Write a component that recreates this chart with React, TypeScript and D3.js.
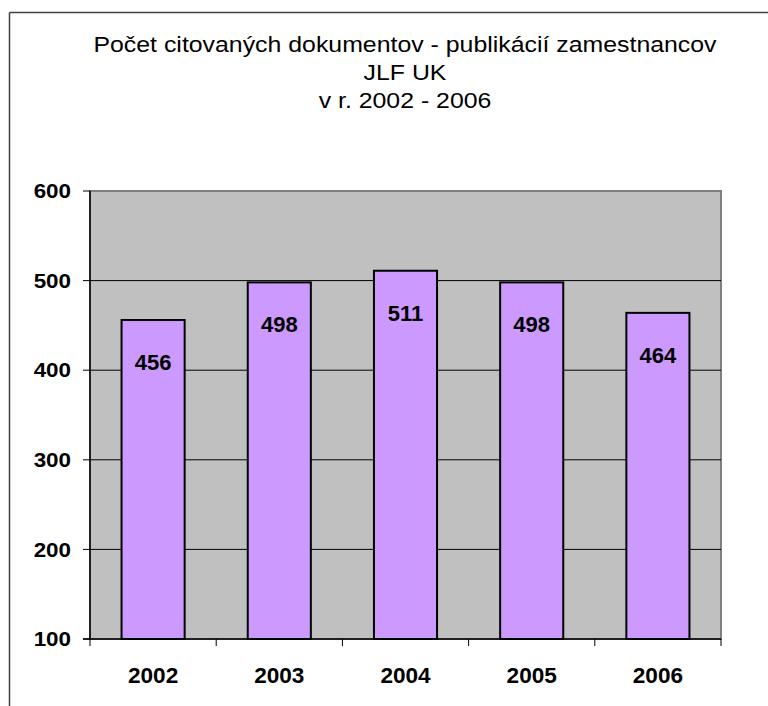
import React from "react";
import * as d3 from "d3";

const categories = ["2002", "2003", "2004", "2005", "2006"];
const values = [456, 498, 511, 498, 464];
const yTicks = [100, 200, 300, 400, 500, 600];
const titleLines = [
  "Počet citovaných dokumentov - publikácií zamestnancov",
  "JLF UK",
  "v r. 2002 - 2006",
];

export default function App() {
  const W = 768;
  const H = 706;
  const left = 90;
  const right = 721;
  const top = 191;
  const bottom = 639;
  const x = d3.scaleBand<string>().domain(categories).range([left, right]).paddingInner(0.5).paddingOuter(0.25);
  const xb = d3.scaleBand<string>().domain(categories).range([left, right]);
  const y = d3.scaleLinear().domain([100, 600]).range([bottom, top]);
  const font = "Arial, 'Liberation Sans', sans-serif";
  const titleBase = [52, 80, 108];
  return (
    <svg width={W} height={H} style={{ position: "absolute", left: 0, top: 0, display: "block" }}>
      <rect x={0} y={0} width={W} height={H} fill="#fff" />
      <line x1={9.5} y1={12.5} x2={W} y2={12.5} stroke="#404040" strokeWidth={1.5} />
      <line x1={9.5} y1={12.5} x2={9.5} y2={H} stroke="#404040" strokeWidth={1.5} />
      {titleLines.map((t, i) => (
        <text key={i} transform={`translate(405,${titleBase[i]}) scale(1.13,1)`} textAnchor="middle" fontFamily={font} fontSize={22} fill="#000">
          {t}
        </text>
      ))}
      <rect x={left} y={top} width={right - left} height={bottom - top} fill="#C0C0C0" stroke="#808080" strokeWidth={2} />
      {yTicks.filter((t) => t > 100 && t < 600).map((t) => (
        <line key={t} x1={left} x2={right} y1={y(t)} y2={y(t)} stroke="#000" strokeWidth={1} />
      ))}
      {categories.map((c, i) => (
        <g key={c}>
          <rect x={x(c)!} y={y(values[i])} width={x.bandwidth()} height={bottom - y(values[i])} fill="#CC99FF" stroke="#000" strokeWidth={2} />
          <text x={x(c)! + x.bandwidth() / 2} y={y(values[i]) + 50} textAnchor="middle" fontFamily={font} fontWeight="bold" fontSize={22} fill="#000">
            {values[i]}
          </text>
          <text transform={`translate(${xb(c)! + xb.bandwidth() / 2},683) scale(1.05,1)`} textAnchor="middle" fontFamily={font} fontWeight="bold" fontSize={21.5} fill="#000">
            {c}
          </text>
        </g>
      ))}
      <line x1={left} x2={left} y1={top} y2={bottom} stroke="#000" strokeWidth={1.5} />
      <line x1={left - 7} x2={right} y1={bottom} y2={bottom} stroke="#000" strokeWidth={1.5} />
      {yTicks.map((t) => (
        <g key={t}>
          <line x1={left - 7} x2={left} y1={y(t)} y2={y(t)} stroke="#000" strokeWidth={1} />
          <text transform={`translate(71,${y(t) + 7.2}) scale(1.12,1)`} textAnchor="end" fontFamily={font} fontWeight="bold" fontSize={20} fill="#000">
            {t}
          </text>
        </g>
      ))}
      {[...categories.map((c) => xb(c)!), right].map((px, i) => (
        <line key={i} x1={px} x2={px} y1={bottom} y2={bottom + 7} stroke="#000" strokeWidth={1} />
      ))}
    </svg>
  );
}
